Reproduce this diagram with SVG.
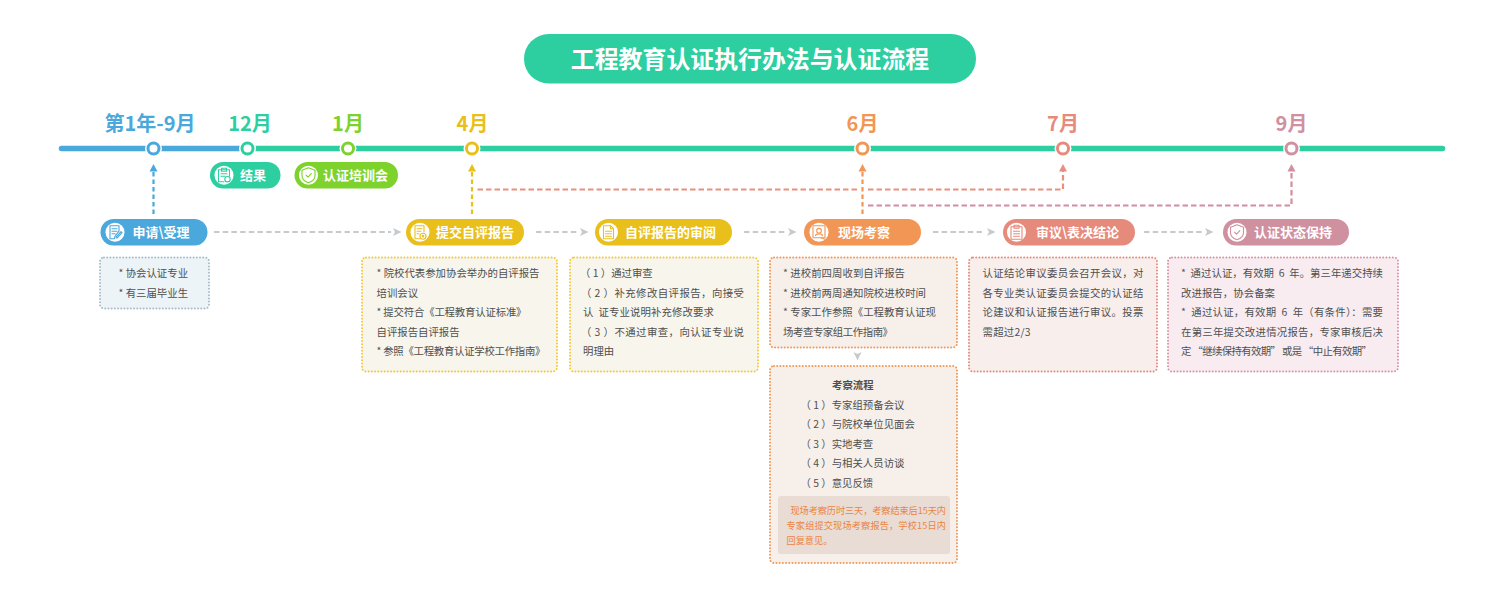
<svg xmlns="http://www.w3.org/2000/svg" width="1500" height="589" viewBox="0 0 1500 589">
<style>
text{font-family:"Noto Sans CJK SC","Noto Sans",sans-serif}
.mon{font-size:20px;font-weight:700;text-anchor:middle}
.pt{font-size:13px;font-weight:700;fill:#fff}
.t{font-size:10.4px;fill:#4f4f4f}
.o{fill:#ec8442;font-size:9.2px}
.box{stroke-width:2;stroke-linecap:round;stroke-dasharray:0 3.2}
.ring{fill:#fff;stroke-width:3}
.halo{fill:#fff}
.d{fill:none;stroke-width:2.200}
.g{stroke:#c6cacd;stroke-dasharray:5.500 3.200}
.ic{fill:none;stroke:currentColor;stroke-width:1.100;stroke-linejoin:round;stroke-linecap:round}
</style>
<defs>
<g id="i-doc" class="ic"><path d="M-5 -6.500H4V-1L0 4L-.5 6.500H-5Z"/><path d="M-3 -3.500H2M-3 -1H2M-3 1.500H0M1 5L6 -.5L7 .5L2 6Z"/></g>
<g id="i-clip" class="ic"><path d="M-5.500 -5.500H5.500V1M-5.500 -5.500V6.500H0"/><path d="M-2.500 -7H2.500V-4H-2.500ZM-3 -1.500H3M-3 1H1"/><circle cx="3.500" cy="4" r="2.700"/></g>
<g id="i-shield" class="ic"><path d="M0 -7.500L6.500 -5V.5C6.500 4 3 6.500 0 7.500C-3 6.500 -6.500 4 -6.500 .5V-5Z"/><path d="M-2.500 0L-.5 2L2.800 -1.500"/></g>
<g id="i-gear" class="ic"><path d="M-5 -6.500H4V-.5M-5 -6.500V6.500H-.5"/><path d="M-3 -3.500H2M-3 -1H1M-3 1.500H-1"/><circle cx="3" cy="4" r="3"/><circle cx="3" cy="4" r=".8"/></g>
<g id="i-page" class="ic"><path d="M-5 -6.500H2L5 -3.500V6.500H-5Z"/><path d="M2 -6.500V-3.500H5M-3 -1H3M-3 1.500H3M-3 4H3"/></g>
<g id="i-person" class="ic"><path d="M-6 -6.500H6V5.500H-6Z"/><circle cx="0" cy="-1.500" r="2.300"/><path d="M-3.500 3.500C-3 1 3 1 3.500 3.500"/><path d="M2 5.500L6 7"/></g>
<g id="i-board" class="ic"><path d="M-5.500 -5.500H5.500V7H-5.500Z"/><path d="M-2.500 -7H2.500V-4H-2.500ZM-3 -1H3M-3 1.500H3M-3 4H3"/></g>
</defs>
<rect width="1500" height="589" fill="#fff"/>

<g id="title"><rect x="524" y="34" width="452" height="49.500" rx="24.700" fill="#2dcfa1"/><text x="750" y="67.500" text-anchor="middle" font-size="23.900" font-weight="700" fill="#fff">工程教育认证执行办法与认证流程</text></g>

<g id="timeline">
<path d="M61.500 148.500H240" stroke="#4aa8dc" stroke-width="5.500" stroke-linecap="round" fill="none"/>
<path d="M250 148.500H1442.500" stroke="#2dcfa1" stroke-width="5.500" stroke-linecap="round" fill="none"/>
</g>

<g id="months">
<g id="m1"><circle class="halo" cx="153.500" cy="148.500" r="8.500"/><circle class="ring" cx="153.500" cy="148.500" r="5.500" stroke="#4aa8dc"/><text class="mon" x="150" y="131" fill="#4aa8dc">第1年-9月</text></g>
<g id="m2"><circle class="halo" cx="247.500" cy="148.500" r="8.500"/><circle class="ring" cx="247.500" cy="148.500" r="5.500" stroke="#2dcfa1"/><text class="mon" x="250" y="131" fill="#2dcfa1">12月</text></g>
<g id="m3"><circle class="halo" cx="348" cy="148.500" r="8.500"/><circle class="ring" cx="348" cy="148.500" r="5.500" stroke="#7ed22c"/><text class="mon" x="348" y="131" fill="#7ed22c">1月</text></g>
<g id="m4"><circle class="halo" cx="472" cy="148.500" r="8.500"/><circle class="ring" cx="472" cy="148.500" r="5.500" stroke="#e9bf1b"/><text class="mon" x="472.500" y="131" fill="#e9bf1b">4月</text></g>
<g id="m5"><circle class="halo" cx="862.500" cy="148.500" r="8.500"/><circle class="ring" cx="862.500" cy="148.500" r="5.500" stroke="#f29655"/><text class="mon" x="862.500" y="131" fill="#f29655">6月</text></g>
<g id="m6"><circle class="halo" cx="1063" cy="148.500" r="8.500"/><circle class="ring" cx="1063" cy="148.500" r="5.500" stroke="#e68a7c"/><text class="mon" x="1063" y="131" fill="#e68a7c">7月</text></g>
<g id="m7"><circle class="halo" cx="1291.500" cy="148.500" r="8.500"/><circle class="ring" cx="1291.500" cy="148.500" r="5.500" stroke="#cf909f"/><text class="mon" x="1291.500" y="131" fill="#cf909f">9月</text></g>
</g>

<g id="connectors">
<path class="d" d="M153.500 214V171" stroke="#4aa8dc" stroke-dasharray="4.500 3"/><path d="M153.500 164L157.500 171.500H149.500Z" fill="#4aa8dc"/>
<path class="d" d="M472 214V171" stroke="#e9bf1b" stroke-dasharray="4.500 3"/><path d="M472 164L476 171.500H468Z" fill="#e9bf1b"/>
<path class="d" d="M862.500 214V171" stroke="#f29655" stroke-dasharray="4.500 3"/><path d="M862.500 164L866.500 171.500H858.500Z" fill="#f29655"/>
<path class="d" d="M477.500 189.500H857" stroke="#ea8f80" stroke-dasharray="5.500 3"/>
<path class="d" d="M868 189.500H1063V171" stroke="#ea8f80" stroke-dasharray="5.500 3"/><path d="M1063 164L1067 171.500H1059Z" fill="#ea8f80"/>
<path class="d" d="M868 205.500H1291.500V171" stroke="#d48ea0" stroke-dasharray="5.500 3"/><path d="M1291.500 164L1295.500 171.500H1287.500Z" fill="#d48ea0"/>
<path class="d g" d="M214 232H391"/><path d="M393 228L401.500 232L393 236L395 232Z" fill="#c6cacd"/>
<path class="d g" d="M536 232H577"/><path d="M580 228L588.500 232L580 236L582 232Z" fill="#c6cacd"/>
<path class="d g" d="M744 232H785"/><path d="M788 228L796.500 232L788 236L790 232Z" fill="#c6cacd"/>
<path class="d g" d="M933 232H984"/><path d="M987 228L995.500 232L987 236L989 232Z" fill="#c6cacd"/>
<path class="d g" d="M1144 232H1202"/><path d="M1205 228L1213.500 232L1205 236L1207 232Z" fill="#c6cacd"/>
<path d="M853.500 352L857.500 360.500L861.500 352L857.500 354Z" fill="#c6cacd"/>
</g>

<g id="n-result"><rect x="210" y="162" width="70.500" height="26.500" rx="13.200" fill="#2dcfa1"/><circle cx="224" cy="175.200" r="9.500" fill="#fff"/><use href="#i-clip" x="224" y="175.200" color="#2dcfa1"/><text class="pt" x="240" y="180">结果</text></g>
<g id="n-training"><rect x="294.500" y="162" width="103.500" height="26.500" rx="13.200" fill="#7ed22c"/><circle cx="308.500" cy="175.200" r="9.500" fill="#fff"/><use href="#i-shield" x="308.500" y="175.200" color="#7ed22c"/><text class="pt" x="323" y="180">认证培训会</text></g>

<g id="n-apply"><rect x="100.500" y="219" width="107" height="26.500" rx="13.200" fill="#4aa8dc"/><circle cx="115" cy="232.200" r="9.500" fill="#fff"/><use href="#i-doc" x="115" y="232.200" color="#4aa8dc"/><text class="pt" x="132.500" y="237">申请\受理</text>
<rect class="box" x="100" y="257.500" width="109" height="51" rx="4" fill="#edf4f8" stroke="#a7bcc9"/>
<text class="t" x="118.500" y="277">* 协会认证专业</text><text class="t" x="118.500" y="296.500">* 有三届毕业生</text></g>

<g id="n-submit"><rect x="406" y="219" width="118" height="26.500" rx="13.200" fill="#e9bf1b"/><circle cx="420" cy="232.200" r="9.500" fill="#fff"/><use href="#i-gear" x="420" y="232.200" color="#e9bf1b"/><text class="pt" x="436" y="237">提交自评报告</text>
<rect class="box" x="362" y="257.500" width="195" height="114" rx="4" fill="#f7f5ec" stroke="#f4c832"/>
<text class="t" x="376.500" y="277" textLength="163">* 院校代表参加协会举办的自评报告</text>
<text class="t" x="376.500" y="296.500">培训会议</text>
<text class="t" x="376.500" y="316" textLength="150">* 提交符合《工程教育认证标准》</text>
<text class="t" x="376.500" y="335.500">自评报告自评报告</text>
<text class="t" x="376.500" y="355" textLength="169">* 参照《工程教育认证学校工作指南》</text></g>

<g id="n-review"><rect x="595" y="219" width="137" height="26.500" rx="13.200" fill="#e9bf1b"/><circle cx="608.500" cy="232.200" r="9.500" fill="#fff"/><use href="#i-page" x="608.500" y="232.200" color="#e9bf1b"/><text class="pt" x="625" y="237">自评报告的审阅</text>
<rect class="box" x="570" y="257.500" width="188" height="114" rx="4" fill="#f7f5ec" stroke="#f4c832"/>
<text class="t" x="580" y="277">（ 1 ）通过审查</text>
<text class="t" x="581" y="296.500" textLength="163">（ 2 ）补充修改自评报告，向接受</text>
<text class="t" x="583" y="316" textLength="131" xml:space="preserve">认  证专业说明补充修改要求</text>
<text class="t" x="581" y="335.500" textLength="163">（ 3 ）不通过审查，向认证专业说</text>
<text class="t" x="583" y="355">明理由</text></g>

<g id="n-visit"><rect x="804" y="219" width="117" height="26.500" rx="13.200" fill="#f29655"/><circle cx="819" cy="232.200" r="9.500" fill="#fff"/><use href="#i-person" x="819" y="232.200" color="#f29655"/><text class="pt" x="838" y="237">现场考察</text>
<rect class="box" x="770" y="257.500" width="187" height="90" rx="4" fill="#f6efea" stroke="#f29655"/>
<text class="t" x="783" y="277" textLength="122">* 进校前四周收到自评报告</text>
<text class="t" x="783" y="296.500" textLength="143">* 进校前两周通知院校进校时间</text>
<text class="t" x="783" y="316" textLength="153">* 专家工作参照《工程教育认证现</text>
<text class="t" x="783" y="335.500" textLength="110">场考查专家组工作指南》</text></g>

<g id="n-process"><rect class="box" x="770" y="366" width="187" height="197" rx="4" fill="#f6efea" stroke="#f29655"/>
<text class="t" x="832" y="389" font-weight="700">考察流程</text>
<text class="t" x="800.500" y="409">（ 1 ）专家组预备会议</text>
<text class="t" x="800.500" y="428">（ 2 ）与院校单位见面会</text>
<text class="t" x="800.500" y="448">（ 3 ）实地考查</text>
<text class="t" x="800.500" y="467">（ 4 ）与相关人员访谈</text>
<text class="t" x="800.500" y="487">（ 5 ）意见反馈</text>
<rect x="778" y="496" width="172" height="58" rx="3" fill="#e8dcd4"/>
<text class="o" x="790.500" y="513.500" textLength="155.500">现场考察历时三天，考察结束后15天内</text>
<text class="o" x="786.500" y="528.500" textLength="159.500">专家组提交现场考察报告，学校15日内</text>
<text class="o" x="786.500" y="544">回复意见。</text></g>

<g id="n-conclude"><rect x="1003" y="219" width="132" height="26.500" rx="13.200" fill="#e68a7c"/><circle cx="1016.500" cy="232.200" r="9.500" fill="#fff"/><use href="#i-board" x="1016.500" y="232.200" color="#e68a7c"/><text class="pt" x="1036" y="237">审议\表决结论</text>
<rect class="box" x="969" y="257.500" width="188" height="114" rx="4" fill="#f8eeec" stroke="#e68a7c"/>
<text class="t" x="982.500" y="277" textLength="161">认证结论审议委员会召开会议，对</text>
<text class="t" x="982.500" y="296.500" textLength="161">各专业类认证委员会提交的认证结</text>
<text class="t" x="982.500" y="316" textLength="161">论建议和认证报告进行审议。投票</text>
<text class="t" x="982.500" y="335.500" textLength="48">需超过2/3</text></g>

<g id="n-keep"><rect x="1223" y="219" width="126" height="26.500" rx="13.200" fill="#cf909f"/><circle cx="1237" cy="232.200" r="9.500" fill="#fff"/><use href="#i-shield" x="1237" y="232.200" color="#cf909f"/><text class="pt" x="1254" y="237">认证状态保持</text>
<rect class="box" x="1168" y="257.500" width="230" height="114" rx="4" fill="#f8ecf0" stroke="#d893a5"/>
<text class="t" x="1181" y="277" textLength="202" xml:space="preserve">*  通过认证，有效期  6  年。第三年递交持续</text>
<text class="t" x="1181" y="296.500" textLength="94">改进报告，协会备案</text>
<text class="t" x="1181" y="316" textLength="202" xml:space="preserve">*  通过认证，有效期  6  年（有条件）：需要</text>
<text class="t" x="1181" y="335.500" textLength="202">在第三年提交改进情况报告，专家审核后决</text>
<text class="t" x="1181" y="355" textLength="191">定 “继续保持有效期” 或是 “中止有效期”</text></g>
</svg>
